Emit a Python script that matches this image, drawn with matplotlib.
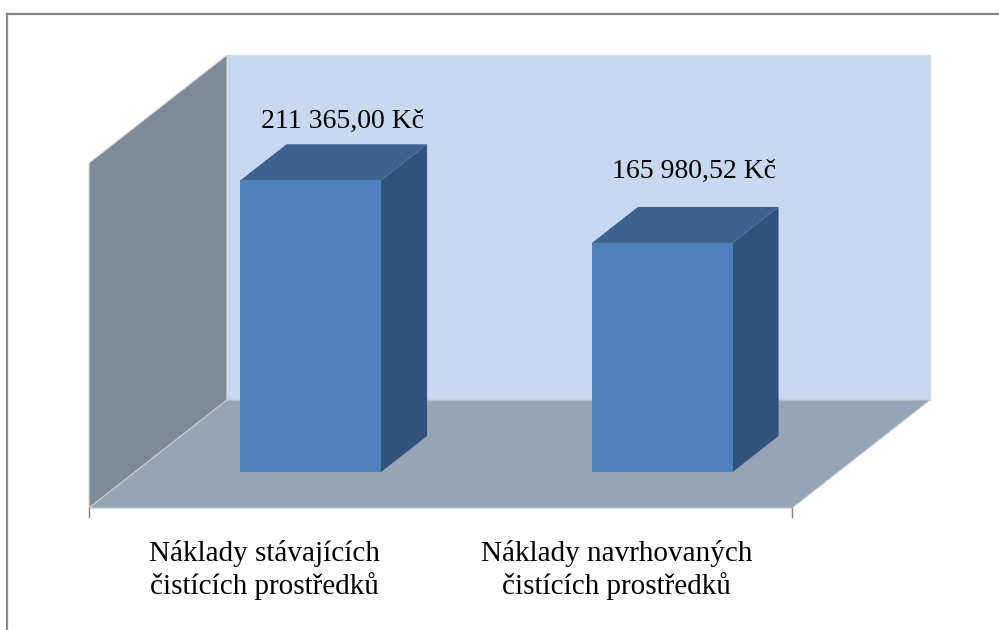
import numpy as np
import matplotlib.pyplot as plt
from matplotlib.patches import Polygon
from matplotlib.lines import Line2D

plt.rcParams['font.family'] = ['Liberation Serif', 'DejaVu Serif']

kategorie = ['Náklady stávajících\nčistících prostředků',
             'Náklady navrhovaných\nčistících prostředků']
naklady = [211365.00, 165980.52]
popisky = ['211 365,00 Kč', '165 980,52 Kč']
y_max = 250000

# sikma projekce: posun zadni steny v pixelech
DX, DY = 138, 108
# hloubka sloupce (podil hloubky podlahy) a polovina sirky
d0, d1 = 1 / 3, 2 / 3
pul = 0.2
# svisle odsazeni popisku hodnot nad sloupcem (px)
odsazeni = [88, 101]

fig = plt.figure(figsize=(9.99, 6.3), dpi=100)
ax = fig.add_axes([89 / 999, 122 / 630, 703 / 999, 345 / 630])
ax.set_xlim(0, 2)
ax.set_ylim(0, y_max)
ax.axis('off')


def proj(x, y, d):
    px, py = ax.transData.transform((x, y))
    return (px + DX * d, py + DY * d)


def plocha(body, barva, **kw):
    p = Polygon([proj(*b) for b in body], closed=True, transform=None,
                facecolor=barva, clip_on=False, **kw)
    ax.add_patch(p)


hrana = dict(edgecolor='#D9D9D9', linewidth=0.8)
# zadni stena, bocni stena, podlaha
plocha([(0, 0, 1), (2, 0, 1), (2, y_max, 1), (0, y_max, 1)], '#C6D9F0', **hrana)
plocha([(0, 0, 0), (0, 0, 1), (0, y_max, 1), (0, y_max, 0)], '#7F8A99', **hrana)
plocha([(0, 0, 0), (2, 0, 0), (2, 0, 1), (0, 0, 1)], '#95A4B6',
       edgecolor='#C8C8C8', linewidth=0.8)

# sloupce
for i, v in enumerate(naklady):
    xc = i + 0.5
    l, r = xc - pul, xc + pul
    plocha([(r, 0, d0), (r, 0, d1), (r, v, d1), (r, v, d0)], '#32527A', linewidth=0)
    plocha([(l, v, d0), (r, v, d0), (r, v, d1), (l, v, d1)], '#3D6190', linewidth=0)
    plocha([(l, 0, d0), (r, 0, d0), (r, v, d0), (l, v, d0)], '#4F81BD', linewidth=0)
    ax.annotate(popisky[i], xy=(xc, v), xytext=(78, odsazeni[i]),
                textcoords='offset pixels', ha='center', va='baseline',
                fontsize=20, color='black', annotation_clip=False)
    ax.annotate(kategorie[i], xy=(xc, 0), xytext=(0, -32),
                textcoords='offset pixels', ha='center', va='top',
                fontsize=21, color='black', linespacing=1.25,
                annotation_clip=False)

# znacky na ose x
for x in (0, 2):
    px, py = proj(x, 0, 0)
    ax.add_line(Line2D([px, px], [py, py - 9], transform=None,
                       color='#808080', linewidth=1, clip_on=False))

# ramecek grafu
fig.add_artist(Line2D([7 / 999, 1], [1 - 14 / 630, 1 - 14 / 630],
                      transform=fig.transFigure, color='#868686', linewidth=1.6))
fig.add_artist(Line2D([7 / 999, 7 / 999], [0, 1 - 14 / 630],
                      transform=fig.transFigure, color='#868686', linewidth=1.6))

fig.savefig('out.png', dpi=100, facecolor='white')
